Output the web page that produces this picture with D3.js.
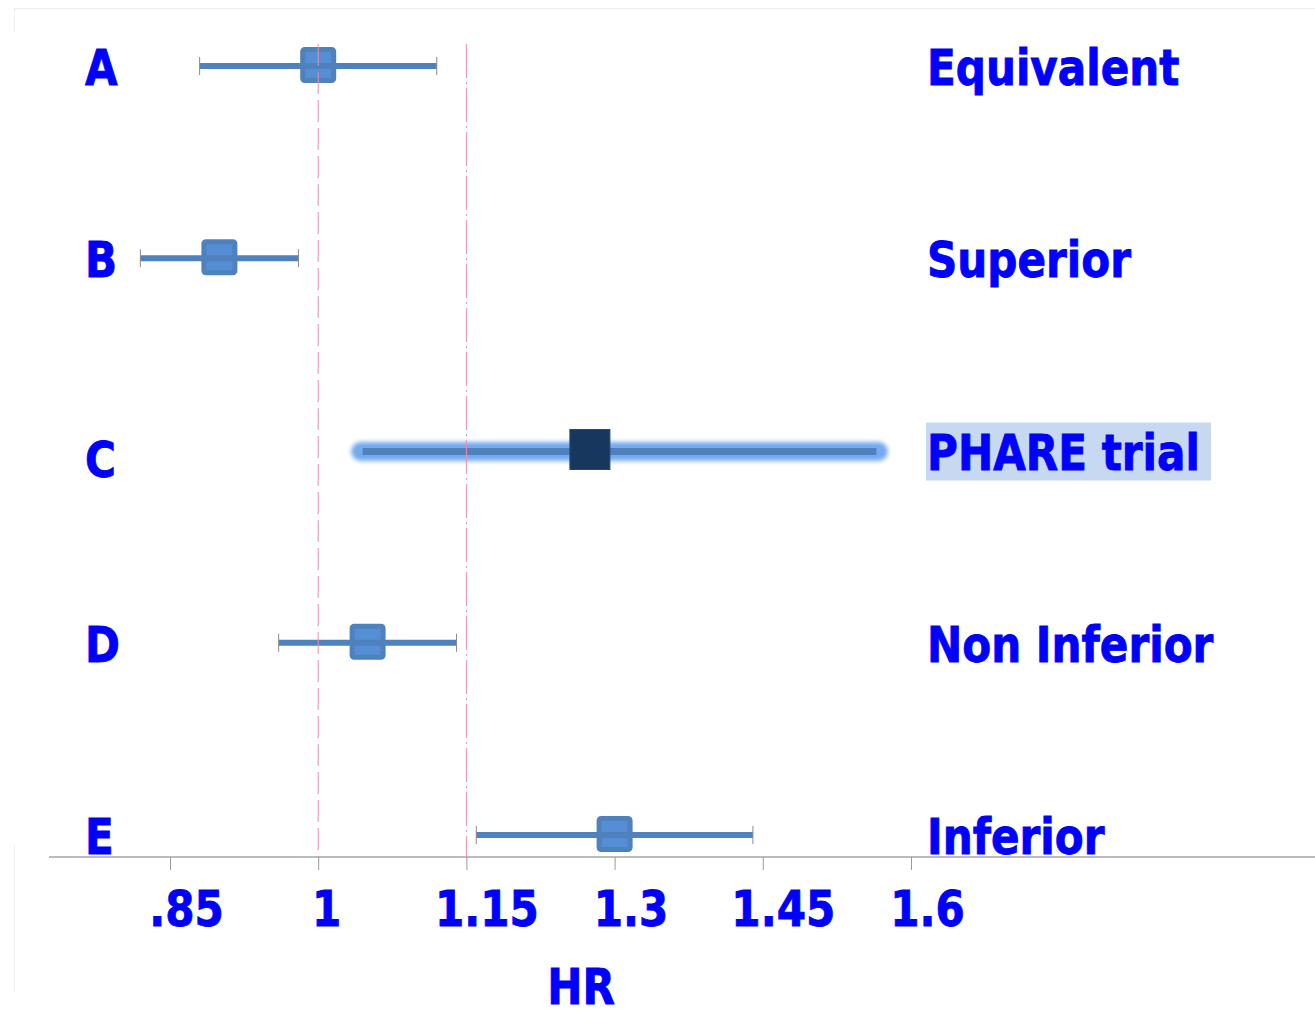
<!DOCTYPE html>
<html>
<head>
<meta charset="utf-8">
<script src="https://cdn.jsdelivr.net/npm/d3@7"></script>
<style>
html,body{margin:0;padding:0;background:#fff;}
svg{display:block;}
</style>
</head>
<body>
<svg id="chart" width="1315" height="1009"></svg>
<script>
// ---- data ----
const categories = ["A", "B", "C", "D", "E"];
const outcomes = ["Equivalent", "Superior", "PHARE trial", "Non Inferior", "Inferior"];
const hr = [1.00, 0.90, 1.275, 1.05, 1.30];
const ciLow = [0.88, 0.82, 1.045, 0.96, 1.16];
const ciHigh = [1.12, 0.98, 1.565, 1.14, 1.44];
const tickValues = [0.85, 1.0, 1.15, 1.3, 1.45, 1.6];
const tickLabels = [".85", "1", "1.15", "1.3", "1.45", "1.6"];
const refLines = [1.0, 1.15];
const highlight = "C";

// ---- layout ----
const svg = d3.select("#chart");
const W = 1315, H = 1009;
const FONT = "'DejaVu Sans', Verdana, sans-serif";
const BLUE = "#0000ff";
const K = 0.86; // horizontal compression (Tahoma-like)

const x = d3.scaleLinear().domain([0.85, 1.6]).range([170, 911]);
const y = d3.scalePoint().domain(categories).range([66, 835]);
const axisY = 857;

function styleText(sel) {
  return sel.attr("fill", BLUE).attr("stroke", BLUE).attr("stroke-width", 0.9)
    .attr("font-family", FONT).attr("font-weight", "bold").attr("font-size", 49);
}

const defs = svg.append("defs");
const f = defs.append("filter").attr("id", "glow").attr("filterUnits", "userSpaceOnUse")
  .attr("x", 0).attr("y", 0).attr("width", W).attr("height", H);
f.append("feGaussianBlur").attr("stdDeviation", 2.2);

// faint frame artifacts
svg.append("line").attr("x1", 14).attr("x2", W).attr("y1", 8.5).attr("y2", 8.5).attr("stroke", "#e8eef0");
svg.append("line").attr("x1", 14.5).attr("x2", 14.5).attr("y1", 8).attr("y2", 32).attr("stroke", "#e8eef0");
svg.append("line").attr("x1", 14.5).attr("x2", 14.5).attr("y1", 845).attr("y2", 992).attr("stroke", "#eeeeee");

// axis
svg.append("line").attr("x1", 49).attr("x2", W).attr("y1", axisY).attr("y2", axisY)
  .attr("stroke", "#a6a6a6").attr("stroke-width", 1.3);
const axis = d3.axisBottom(x).tickValues(tickValues)
  .tickFormat((d, i) => tickLabels[i]).tickSize(13).tickPadding(0);
const ag = svg.append("g").attr("transform", `translate(0,${axisY})`).call(axis);
ag.select(".domain").remove();
ag.selectAll(".tick line").attr("stroke", "#9a9a9a").attr("stroke-width", 1);
styleText(ag.selectAll(".tick text"))
  .attr("y", 69).attr("dy", 0)
  .attr("text-anchor", "middle")
  .attr("transform", (d, i) => `translate(${i === 1 ? 8 : (tickLabels[i].length === 4 ? 20 : 16)},0) scale(${K},1)`);

// axis title
styleText(svg.append("text").text("HR"))
  .attr("transform", `translate(581,1004) scale(${K},1)`)
  .attr("text-anchor", "middle");

const rows = categories.map((c, i) => ({ c, label: outcomes[i], hr: hr[i], lo: ciLow[i], hi: ciHigh[i] }));

// highlight band for PHARE
rows.filter(r => r.c === highlight).forEach(r => {
  const yy = y(r.c);
  svg.append("line").attr("x1", x(r.lo) - 2).attr("x2", x(r.hi) + 2).attr("y1", yy + 1).attr("y2", yy + 1)
    .attr("stroke", "#74a9f0").attr("stroke-width", 19).attr("stroke-linecap", "round")
    .attr("filter", "url(#glow)");
  svg.append("line").attr("x1", x(r.lo)).attr("x2", x(r.hi)).attr("y1", yy + 1).attr("y2", yy + 1)
    .attr("stroke", "#4f81bd").attr("stroke-width", 7);
  const s = 40;
  svg.append("rect").attr("x", x(r.hr) - s / 2).attr("y", yy - s / 2 - 1).attr("width", s).attr("height", s)
    .attr("fill", "#17375e").attr("stroke", "#1f4a7a").attr("stroke-width", 1);
});

// regular rows
rows.filter(r => r.c !== highlight).forEach(r => {
  const yy = y(r.c);
  const g = svg.append("g");
  const s = 31;
  g.append("rect").attr("x", x(r.hr) - s / 2).attr("y", yy - s / 2 - 1).attr("width", s).attr("height", s)
    .attr("rx", 2).attr("fill", "#558ed5").attr("stroke", "#4f81bd").attr("stroke-width", 5);
  g.append("line").attr("x1", x(r.lo)).attr("x2", x(r.hi)).attr("y1", yy).attr("y2", yy)
    .attr("stroke", "#4f81bd").attr("stroke-width", 6);
  [r.lo, r.hi].forEach(v => {
    g.append("line").attr("x1", x(v)).attr("x2", x(v)).attr("y1", yy - 9).attr("y2", yy + 9)
      .attr("stroke", "#8a8a8a").attr("stroke-width", 1);
  });
});

// reference lines
const dashes = ["22,6", "34,4,2,4"];
refLines.forEach((v, i) => {
  svg.append("line").attr("x1", x(v)).attr("x2", x(v)).attr("y1", 44).attr("y2", axisY)
    .attr("stroke", "#f08cab").attr("stroke-width", 1).attr("stroke-dasharray", dashes[i]);
});

// left labels
rows.forEach(r => {
  const dy = r.c === highlight ? 26 : 19;
  styleText(svg.append("text").text(r.c))
    .attr("transform", `translate(85,${y(r.c) + dy}) scale(${K},1)`);
});

// right labels
rows.forEach(r => {
  const yy = y(r.c);
  if (r.c === highlight) {
    svg.append("rect").attr("x", 926).attr("y", yy - 28).attr("width", 285).attr("height", 58).attr("fill", "#c6d9f1");
  }
  styleText(svg.append("text").text(r.label))
    .attr("transform", `translate(927,${yy + 19}) scale(${K},1)`);
});
</script>
</body>
</html>
